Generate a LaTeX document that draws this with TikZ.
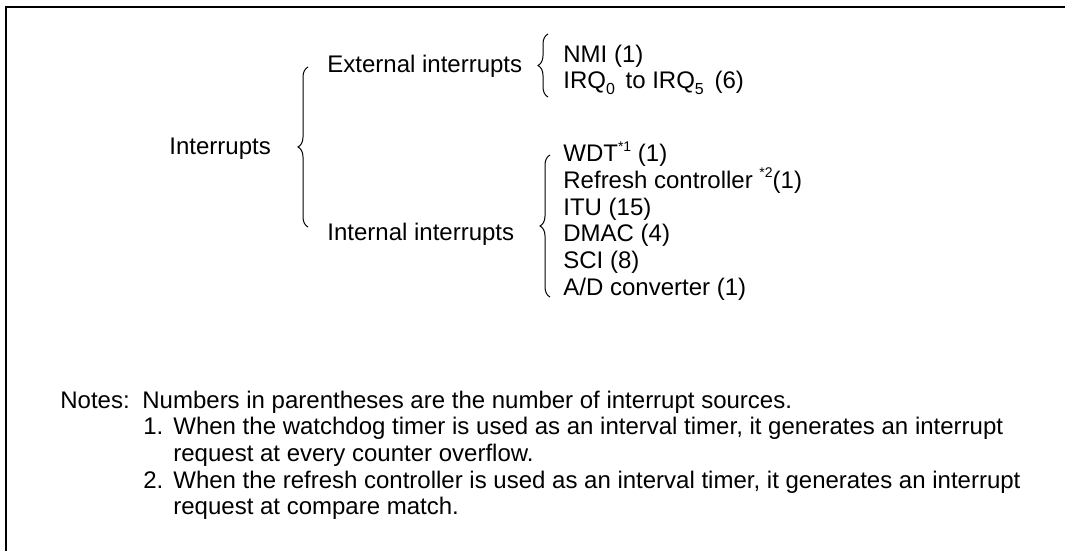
\documentclass[tikz,border=0pt]{standalone}
\usepackage{fontspec}
\setmainfont{Liberation Sans}
\usepackage{tikz}
\usetikzlibrary{positioning, decorations.pathreplacing}
\newcommand{\lowidx}[1]{\raisebox{-3pt}{\fontsize{8}{8}\selectfont #1}}
\newcommand{\noteref}[1]{\raisebox{5.5pt}{\fontsize{7}{7}\selectfont #1}}

\begin{document}
\begin{tikzpicture}[x=0.5pt, y=-0.5pt,
    txt/.style={anchor=base west, inner sep=0pt, font=\fontsize{12}{13.35}\selectfont},
    curly/.style={decorate, decoration={brace, amplitude=5pt}, line width=0.5pt}]
    \useasboundingbox (0,0) rectangle (1065,551);

    % Frame
    \draw[line width=1pt] (1065,7.5) -- (6,7.5) -- (6,551);

    % Root
    \node[txt] (root) at (169,155) {Interrupts};

    % Groups
    \node[txt] (ext) at (327,73) {External interrupts};
    \node[txt] (int) at (327,240) {Internal interrupts};

    % External sources
    \node[txt] (nmi) at (563,63) {NMI (1)};
    \node[txt] (irq) at (563,89) {IRQ\lowidx{0}\, to IRQ\lowidx{5}\, (6)};

    % Internal sources
    \node[txt] (wdt) at (563,162) {WDT\noteref{*1} (1)};
    \node[txt] (rfsh) at (563,188.6) {Refresh controller \noteref{*2}(1)};
    \node[txt] (itu) at (563,215.2) {ITU (15)};
    \node[txt] (dmac) at (563,241.8) {DMAC (4)};
    \node[txt] (sci) at (563,268.4) {SCI (8)};
    \node[txt] (adc) at (563,295) {A/D converter (1)};

    % Braces
    \coordinate (b1s) at (308,227);
    \coordinate (b1e) at (308,67);
    \coordinate (b2s) at (548,97);
    \coordinate (b2e) at (548,34);
    \coordinate (b3s) at (550,297);
    \coordinate (b3e) at (550,155);
    \draw[curly] (b1s) -- (b1e);
    \draw[curly] (b2s) -- (b2e);
    \draw[curly] (b3s) -- (b3e);

    % Notes
    \node[txt] (notes) at (60,408) {Notes:};
    \node[txt] (note0) at (142,408) {Numbers in parentheses are the number of interrupt sources.};
    \node[txt] (num1) at (143,434.7) {1.};
    \node[txt] (note1a) at (173,434.7) {When the watchdog timer is used as an interval timer, it generates an interrupt};
    \node[txt] (note1b) at (173,461.3) {request at every counter overflow.};
    \node[txt] (num2) at (143,488) {2.};
    \node[txt] (note2a) at (173,488) {When the refresh controller is used as an interval timer, it generates an interrupt};
    \node[txt] (note2b) at (173,514.7) {request at compare match.};
\end{tikzpicture}
\end{document}
